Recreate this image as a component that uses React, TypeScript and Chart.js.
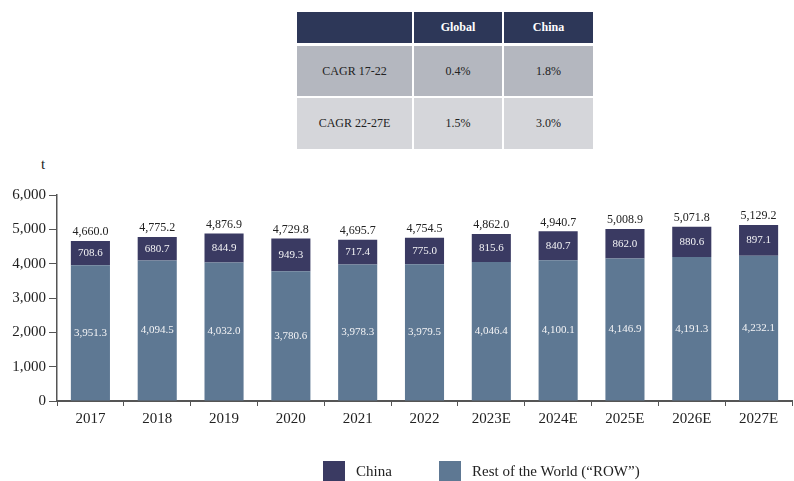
import React, { useEffect, useRef } from "react";
import { Chart, registerables } from "chart.js";

Chart.register(...registerables);

const categories = ["2017", "2018", "2019", "2020", "2021", "2022", "2023E", "2024E", "2025E", "2026E", "2027E"];
const rowValues = [3951.3, 4094.5, 4032.0, 3780.6, 3978.3, 3979.5, 4046.4, 4100.1, 4146.9, 4191.3, 4232.1];
const chinaValues = [708.6, 680.7, 844.9, 949.3, 717.4, 775.0, 815.6, 840.7, 862.0, 880.6, 897.1];
const totalValues = [4660.0, 4775.2, 4876.9, 4729.8, 4695.7, 4754.5, 4862.0, 4940.7, 5008.9, 5071.8, 5129.2];

const tableHeader = ["", "Global", "China"];
const tableRows = [
  ["CAGR 17-22", "0.4%", "1.8%"],
  ["CAGR 22-27E", "1.5%", "3.0%"],
];

const CHINA_COLOR = "#3a3a62";
const ROW_COLOR = "#5e7893";
const FONT = "'Liberation Serif', 'Times New Roman', serif";

const fmt = (v: number) =>
  v.toLocaleString("en-US", { minimumFractionDigits: 1, maximumFractionDigits: 1 });

const labelPlugin = {
  id: "valueLabels",
  afterDatasetsDraw(chart: any) {
    const ctx = chart.ctx;
    ctx.save();
    ctx.textAlign = "center";
    ctx.textBaseline = "middle";
    ctx.font = `11px ${FONT}`;
    chart.data.datasets.forEach((ds: any, di: number) => {
      const meta = chart.getDatasetMeta(di);
      meta.data.forEach((bar: any, i: number) => {
        const mid = (bar.y + bar.base) / 2;
        ctx.fillStyle = "#f4f4f6";
        ctx.fillText(fmt(ds.data[i]), bar.x, mid);
      });
    });
    const topMeta = chart.getDatasetMeta(1);
    ctx.font = `12px ${FONT}`;
    ctx.fillStyle = "#222222";
    ctx.textBaseline = "bottom";
    topMeta.data.forEach((bar: any, i: number) => {
      ctx.fillText(fmt(totalValues[i]), bar.x, bar.y - 3);
    });
    ctx.restore();
  },
};

function BarChart() {
  const ref = useRef<HTMLCanvasElement | null>(null);
  useEffect(() => {
    if (!ref.current) return;
    const chart = new Chart(ref.current, {
      type: "bar",
      data: {
        labels: categories,
        datasets: [
          {
            label: "Rest of the World (\u201CROW\u201D)",
            data: rowValues,
            backgroundColor: ROW_COLOR,
            barPercentage: 0.585,
            categoryPercentage: 1,
          },
          {
            label: "China",
            data: chinaValues,
            backgroundColor: CHINA_COLOR,
            barPercentage: 0.585,
            categoryPercentage: 1,
          },
        ],
      },
      options: {
        animation: false,
        responsive: false,
        maintainAspectRatio: false,
        layout: { padding: { top: 45, right: 2, left: 0, bottom: 0 } },
        plugins: { legend: { display: false }, tooltip: { enabled: false } },
        scales: {
          x: {
            stacked: true,
            grid: {
              offset: true,
              drawOnChartArea: false,
              drawTicks: true,
              tickLength: 5,
              color: "#555555",
            },
            border: { color: "#555555", width: 2 },
            ticks: { color: "#222222", font: { family: FONT, size: 15 }, padding: 4, maxRotation: 0 },
            afterFit: (s: any) => {
              s.height = 80;
            },
          },
          y: {
            stacked: true,
            min: 0,
            max: 6000,
            ticks: {
              stepSize: 1000,
              color: "#222222",
              font: { family: FONT, size: 15 },
              padding: 3,
              callback: (v: any) => Number(v).toLocaleString("en-US"),
            },
            grid: { drawOnChartArea: false, drawTicks: true, tickLength: 8, color: "#555555" },
            border: { color: "#555555", width: 1.5 },
            afterFit: (s: any) => {
              s.width = 57;
            },
          },
        },
      },
      plugins: [labelPlugin],
    });
    return () => chart.destroy();
  }, []);
  return <canvas ref={ref} width={794} height={331} style={{ position: "absolute", left: 0, top: 150, width: 794, height: 331 }} />;
}

export default function App() {
  const colLeft = [297, 414, 504];
  const colWidth = [115, 88, 89];
  const rowTop = [46, 98];
  const rowHeight = [50, 51];
  const rowBg = ["#b4b7bf", "#d5d6da"];
  return (
    <div
      style={{
        position: "fixed",
        left: 0,
        top: 0,
        width: 794,
        height: 481,
        background: "#ffffff",
        fontFamily: FONT,
        overflow: "hidden",
      }}
    >
      {tableHeader.map((h, c) => (
        <div
          key={"h" + c}
          style={{
            position: "absolute",
            left: colLeft[c],
            top: 12,
            width: colWidth[c],
            height: 31,
            background: "#2d3758",
            color: "#ffffff",
            fontWeight: "bold",
            fontSize: 12,
            display: "flex",
            alignItems: "center",
            justifyContent: "center",
          }}
        >
          {h}
        </div>
      ))}
      {tableRows.map((r, ri) =>
        r.map((cell, c) => (
          <div
            key={ri + "-" + c}
            style={{
              position: "absolute",
              left: colLeft[c],
              top: rowTop[ri],
              width: colWidth[c],
              height: rowHeight[ri],
              background: rowBg[ri],
              color: "#222222",
              fontSize: 12,
              display: "flex",
              alignItems: "center",
              justifyContent: "center",
            }}
          >
            {cell}
          </div>
        ))
      )}
      <div style={{ position: "absolute", left: 41, top: 156, fontSize: 15, color: "#222" }}>t</div>
      <BarChart />
      <div style={{ position: "absolute", left: 323, top: 461, width: 22, height: 20, background: CHINA_COLOR }} />
      <div style={{ position: "absolute", left: 356, top: 461, fontSize: 15, lineHeight: "20px", color: "#222" }}>China</div>
      <div style={{ position: "absolute", left: 439, top: 461, width: 22, height: 20, background: ROW_COLOR }} />
      <div style={{ position: "absolute", left: 472, top: 461, fontSize: 15, lineHeight: "20px", color: "#222" }}>
        Rest of the World (“ROW”)
      </div>
    </div>
  );
}
